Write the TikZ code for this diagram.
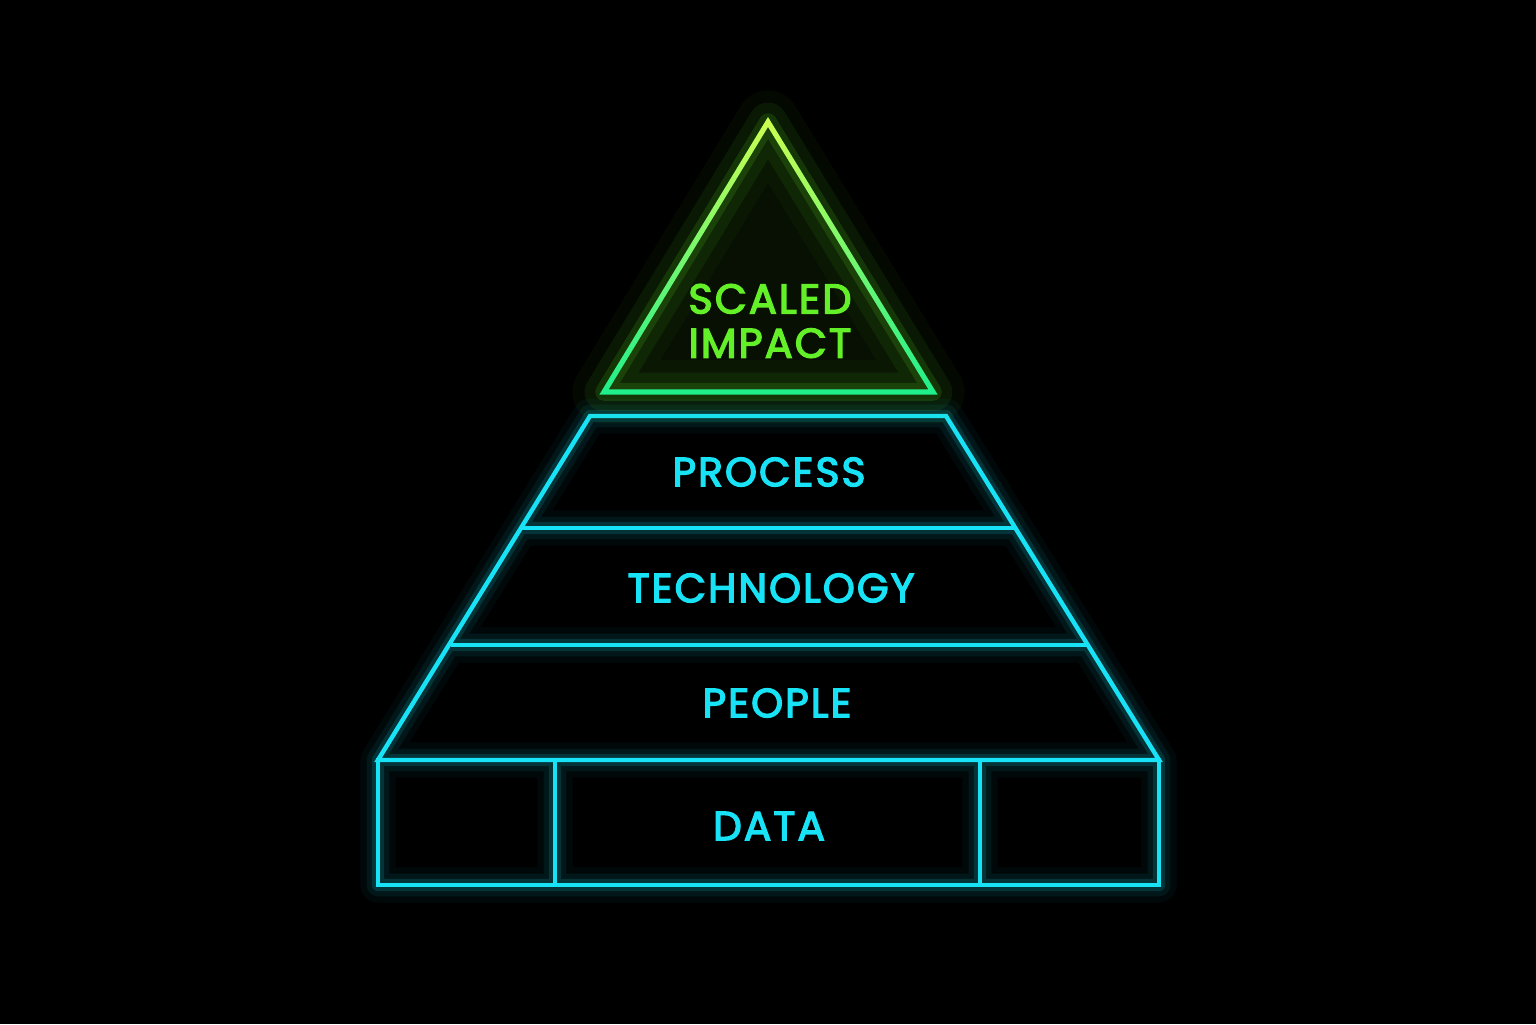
\documentclass[tikz,border=0pt]{standalone}
\usepackage{fontspec}
\setmainfont{Poppins}
\newfontfamily\neonfont{Poppins}[FakeBold=3.2, LetterSpace=5]
\usetikzlibrary{calc}
\definecolor{neoncyan}{RGB}{24,226,246}
\definecolor{neongreen}{RGB}{100,240,40}
\definecolor{limetop}{RGB}{205,255,80}
\definecolor{limemid}{RGB}{170,255,90}
\definecolor{mintbase}{RGB}{30,240,140}
\tikzstyle{tier} = [draw=neoncyan, line width=1.25pt, line join=miter]
\tikzstyle{halo} = [draw=neoncyan, line join=round, line cap=round]
\tikzstyle{tiertext} = [text=neoncyan, font=\fontsize{11.6}{12}\neonfont]
\tikzstyle{toptext} = [text=neongreen, font=\fontsize{11.8}{12.6}\neonfont, align=center]

\begin{document}
\begin{tikzpicture}
  % Background
  \fill[black] (0,0) rectangle (15.36,10.24);
  \useasboundingbox (0,0) rectangle (15.36,10.24);

  % Place coordinates
  \coordinate (apex) at (7.68,9.02);
  \coordinate (tl) at (6.04,6.32);
  \coordinate (tr) at (9.33,6.32);
  \coordinate (inc) at (7.685,7.244);
  \coordinate (ptl) at (5.90,6.08);
  \coordinate (ptr) at (9.46,6.08);
  \coordinate (ttl) at (5.22,4.96);
  \coordinate (ttr) at (10.15,4.96);
  \coordinate (pel) at (4.51,3.79);
  \coordinate (per) at (10.87,3.79);
  \coordinate (dtl) at (3.78,2.64);
  \coordinate (dtr) at (11.59,2.64);
  \coordinate (dbl) at (3.78,1.39);
  \coordinate (dbr) at (11.59,1.39);
  \coordinate (d1t) at (5.55,2.64);
  \coordinate (d1b) at (5.55,1.39);
  \coordinate (d2t) at (9.80,2.64);
  \coordinate (d2b) at (9.80,1.39);

  % Glow of the tiers
  \foreach \w/\o in {10pt/0.04, 6.5pt/0.07, 3.5pt/0.14} {
    \draw[halo, line width=\w, opacity=\o] (ptl) -- (ptr) -- (dtr) -- (dtl) -- cycle
      (dtl) -- (dbl) -- (dbr) -- (dtr) (ttl) -- (ttr) (pel) -- (per)
      (d1t) -- (d1b) (d2t) -- (d2b);
  }

  % Draw tiers
  \draw[tier] (ptl) -- (ptr) -- (dtr) -- (dtl) -- cycle;
  \draw[tier] (dtl) rectangle (dbr);
  \draw[tier] (ttl) -- (ttr);
  \draw[tier] (pel) -- (per);
  \draw[tier] (d1t) -- (d1b);
  \draw[tier] (d2t) -- (d2b);

  % Glow of the top
  \fill[neongreen, opacity=0.07] (apex) -- (tl) -- (tr) -- cycle;
  \foreach \w/\o in {18pt/0.04, 11pt/0.07, 5pt/0.14} {
    \draw[neongreen, line width=\w, opacity=\o, line join=round] (apex) -- (tl) -- (tr) -- cycle;
  }
  \shade[top color=limetop, middle color=limemid, bottom color=mintbase, even odd rule]
    ($(inc)!1.028!(apex)$) -- ($(inc)!1.028!(tl)$) -- ($(inc)!1.028!(tr)$) -- cycle
    ($(inc)!0.972!(apex)$) -- ($(inc)!0.972!(tl)$) -- ($(inc)!0.972!(tr)$) -- cycle;

  % Labels
  \node[toptext] (impact) at (7.70,7.03) {SCALED\\IMPACT};
  \node[tiertext] (process) at (7.69,5.52) {PROCESS};
  \node[tiertext] (technology) at (7.71,4.36) {TECHNOLOGY};
  \node[tiertext] (people) at (7.77,3.21) {PEOPLE};
  \node[tiertext] (data) at (7.69,1.98) {DATA};
\end{tikzpicture}
\end{document}
